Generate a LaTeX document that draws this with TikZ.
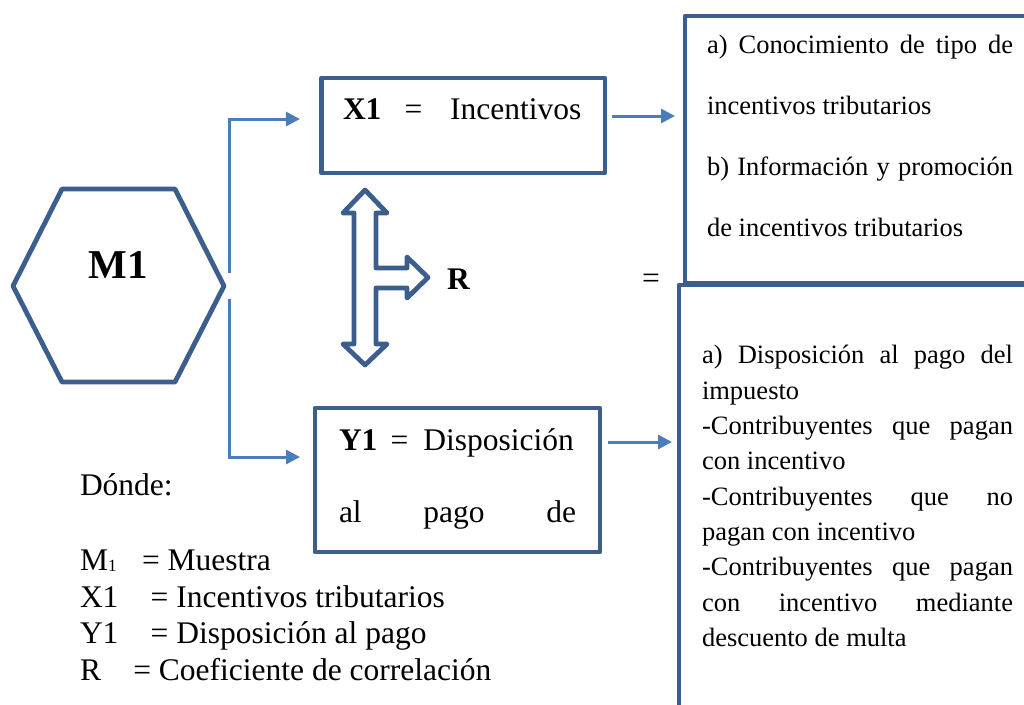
\documentclass[tikz,border=0pt]{standalone}
\usepackage{fontspec}
\setmainfont{Liberation Serif}
\usetikzlibrary{arrows.meta}
\definecolor{dblue}{HTML}{3B5E8C}
\definecolor{lblue}{HTML}{4A7EBB}
\newcommand\fbig{\fontsize{31.5}{37}\selectfont}
\newcommand\ftxt{\fontsize{26.5}{32}\selectfont}
\newcommand\fhuge{\fontsize{41}{48}\selectfont}
\newcommand\fsub{\fontsize{17}{20}\selectfont}
\begin{document}
\begin{tikzpicture}[x=1pt,y=-1pt,
  box/.style={draw=dblue,line width=4.8pt,outer sep=0pt,inner sep=0pt,line join=round},
  conn/.style={draw=lblue,line width=3pt,-{Triangle[length=14pt,width=14pt]}},
  lbl/.style={anchor=base west,inner sep=0pt,outer sep=0pt,font=\fbig},
  txt/.style={anchor=base west,inner sep=0pt,outer sep=0pt,font=\ftxt}]
\useasboundingbox[fill=white] (0,0) rectangle (1024,704);

% hexagon M1
\draw[dblue,line width=4.8pt,line join=round]
  (13,286) -- (62,189) -- (175,189) -- (224,286) -- (175,382) -- (62,382) -- cycle;
\node[anchor=base,inner sep=0pt,font=\fhuge\bfseries] (M1) at (118,278) {M1};
\coordinate (m1up) at (229,273);
\coordinate (m1dn) at (229,299);

% boxes
\node[box,minimum width=283.3pt,minimum height=95pt] (X1) at (463.3,125.5) {};
\node[box,minimum width=285pt,minimum height=144pt] (Y1) at (457.5,480) {};
\node[box,minimum width=345pt,minimum height=267pt] (TB) at (857.5,149.5) {};
\node[box,minimum width=351pt,minimum height=430pt] (BB) at (854.5,500) {};

% box texts
\node[lbl] (x1t) at (343,119) {\textbf{X1}\hspace{23pt}=\hspace{28pt}Incentivos};
\node[lbl] (y1t) at (339,450) {\textbf{Y1}\hspace{13pt}=\hspace{15pt}Disposición};
\node[lbl] (y1t2) at (339,522) {\makebox[237pt][s]{al pago de}};

\node[txt] (t1) at (707,53) {\makebox[306pt][s]{a) Conocimiento de tipo de}};
\node[txt] (t2) at (707,114.3) {incentivos tributarios};
\node[txt] (t3) at (707,175) {\makebox[306pt][s]{b) Información y promoción}};
\node[txt] (t4) at (707,236.7) {de incentivos tributarios};

\node[txt] (b1) at (702,363.7) {\makebox[311pt][s]{a) Disposición al pago del}};
\node[txt] (b2) at (702,399.1) {impuesto};
\node[txt] (b3) at (702,434.4) {\makebox[311pt][s]{-Contribuyentes que pagan}};
\node[txt] (b4) at (702,469.8) {con incentivo};
\node[txt] (b5) at (702,505.2) {\makebox[311pt][s]{-Contribuyentes que no}};
\node[txt] (b6) at (702,540.5) {pagan con incentivo};
\node[txt] (b7) at (702,575.9) {\makebox[311pt][s]{-Contribuyentes que pagan}};
\node[txt] (b8) at (702,611.3) {\makebox[311pt][s]{con incentivo mediante}};
\node[txt] (b9) at (702,646.7) {descuento de multa};

% R and =
\node[lbl] (R) at (447,289) {\textbf{R}};
\node[lbl] (eq) at (642,288.5) {=};

% double arrow
\draw[dblue,line width=4.8pt,line join=round,fill=white]
  (365,190) -- (387,213) -- (376,213) -- (376,268) -- (407,268) -- (407,257)
  -- (428,277.5) -- (407,298) -- (407,288) -- (376,288) -- (376,344)
  -- (387,344) -- (365,365) -- (343,344) -- (354,344) -- (354,213)
  -- (343,213) -- cycle;

% connectors
\coordinate (xin) at ([yshift=6.5pt]X1.west);
\coordinate (yin) at ([yshift=23pt]Y1.west);
\draw[conn,shorten >=21.7pt] (m1up) |- (xin);
\draw[conn,shorten >=15pt] (m1dn) |- (yin);
\coordinate (xa) at ([yshift=9.5pt]X1.east);
\coordinate (ya) at ([yshift=38pt]Y1.east);
\draw[conn,shorten <=7pt,shorten >=10pt] (xa) -- (xa -| TB.west);
\draw[conn,shorten <=8pt,shorten >=7pt] (ya) -- (ya -| BB.west);

% legend
\node[lbl] (dn) at (80,495) {Dónde:};
\node[lbl] (lm) at (80,570) {M\raisebox{-1.5pt}{\fsub 1}};
\node[lbl] (lme) at (142,570) {= Muestra};
\node[lbl] (lx) at (80,607) {X1};
\node[lbl] (lxe) at (150.7,607) {= Incentivos tributarios};
\node[lbl] (ly) at (80,643) {Y1};
\node[lbl] (lye) at (150.7,643) {= Disposición al pago};
\node[lbl] (lr) at (80,680) {R};
\node[lbl] (lre) at (133.3,680) {= Coeficiente de correlación};
\end{tikzpicture}
\end{document}
